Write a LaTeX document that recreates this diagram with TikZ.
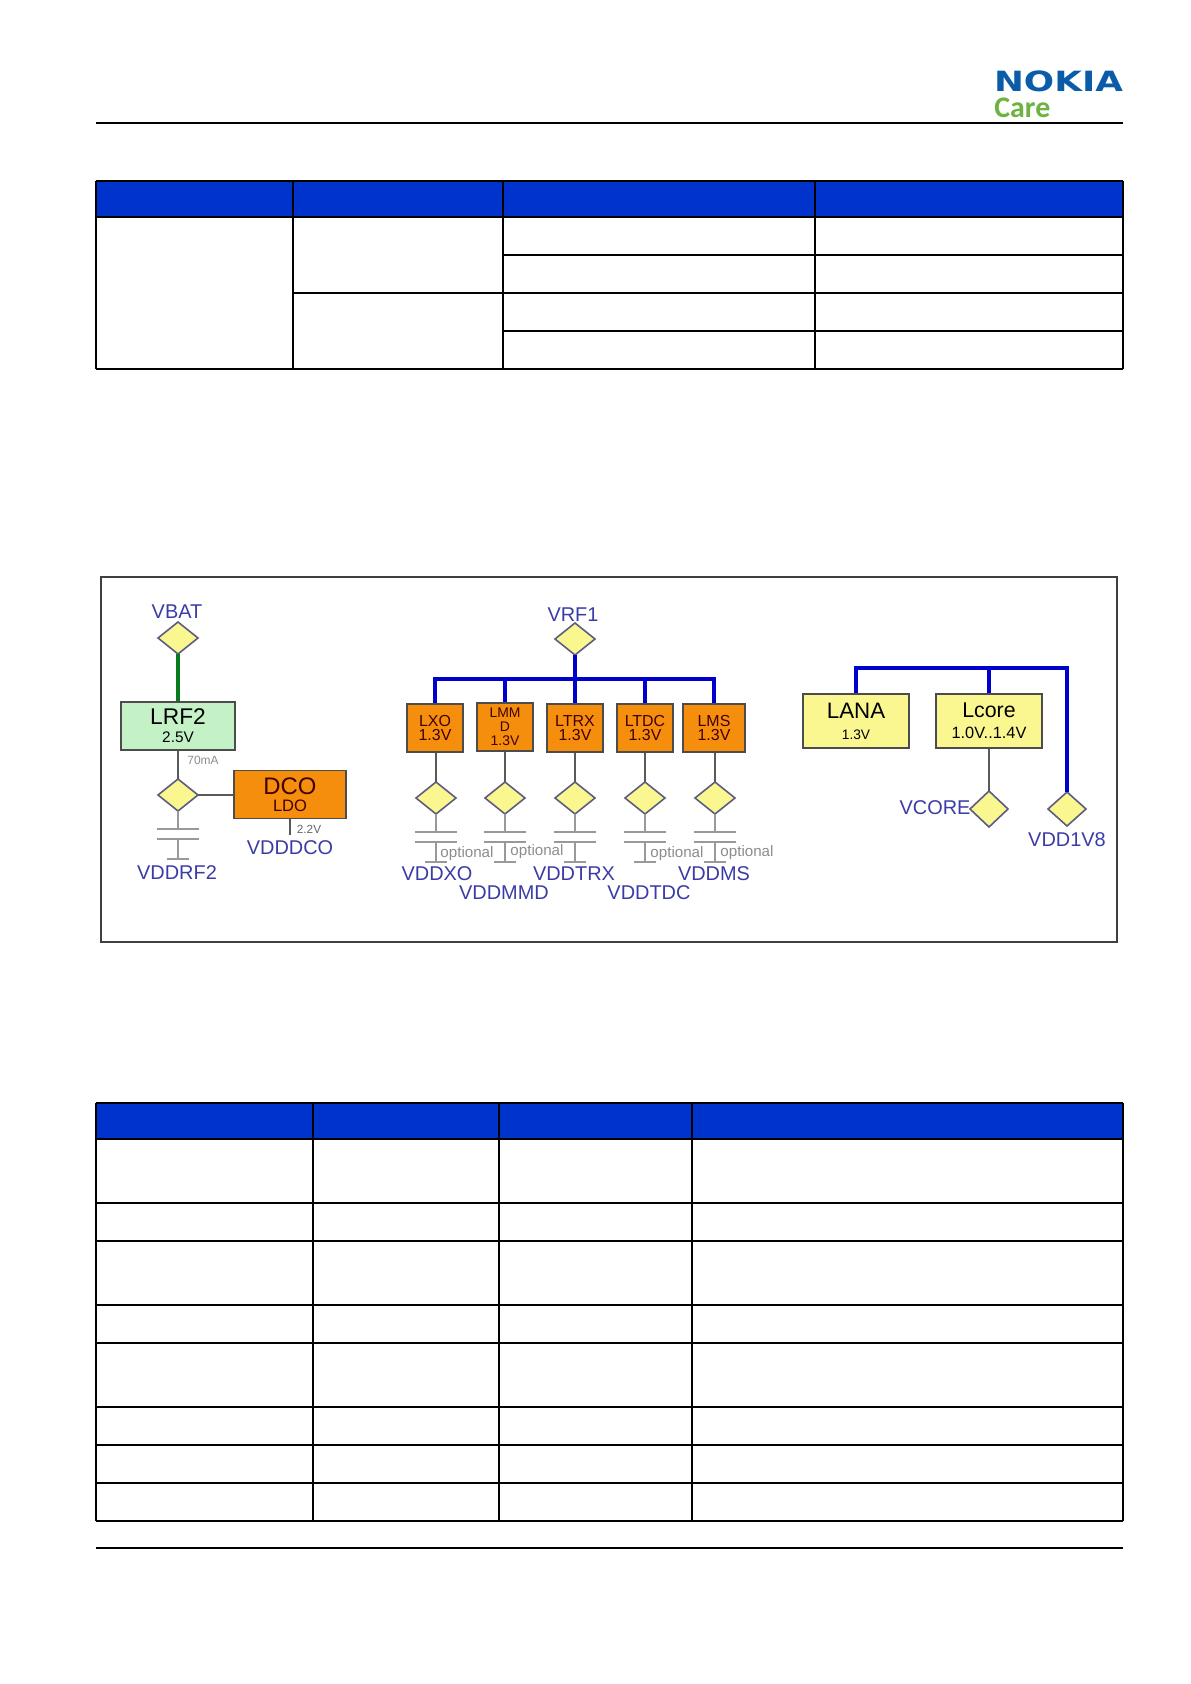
\documentclass[tikz,border=0pt]{standalone}
\usepackage{fontspec}
\setmainfont{Liberation Sans}
\newfontfamily\carefont{Carlito}
\newfontfamily\logofont{DejaVu Sans}
\usetikzlibrary{shapes.geometric}

\definecolor{headblue}{HTML}{0033CC}
\definecolor{railblue}{HTML}{0000CC}
\definecolor{railgreen}{HTML}{0A7A1E}
\definecolor{netblue}{HTML}{3B3BA6}
\definecolor{ldoorange}{HTML}{F58E0C}
\definecolor{ldogreen}{HTML}{C4F2C6}
\definecolor{ldoyellow}{HTML}{FBF790}
\definecolor{nodeedge}{HTML}{5C5C80}
\definecolor{logoblue}{HTML}{0A5CA8}
\definecolor{logogreen}{HTML}{6DB33F}

\newcommand{\fsz}[1]{\fontsize{#1}{#1}\selectfont}

\tikzset{
    tablerule/.style={line width=1bp, black},
    thinrule/.style={line width=0.75bp, black},
    railb/.style={line width=2bp, railblue},
    railg/.style={line width=1.6bp, railgreen},
    wire/.style={line width=0.7bp, black!65},
    capline/.style={line width=0.6bp, black!40},
    pin/.style={diamond, draw=nodeedge, line width=0.8bp, fill=ldoyellow,
        inner sep=0pt, outer sep=0pt, minimum width=20bp, minimum height=16bp},
    ldo/.style={draw=black!70, line width=0.8bp, inner sep=0pt, align=center},
    orangeldo/.style={ldo, fill=ldoorange, minimum width=28bp, minimum height=24bp,
        text=black!75!red, font=\fsz{8}},
    yellowldo/.style={ldo, fill=ldoyellow, minimum width=53bp, minimum height=27bp},
    netname/.style={text=netblue, font=\fsz{10}, inner sep=0pt},
    note/.style={text=black!45, inner sep=0pt, font=\fsz{7.6}}
}

\begin{document}
\begin{tikzpicture}[x=0.5bp, y=-0.5bp]
    \useasboundingbox (0,0) rectangle (1191,1684);

    % page head and foot
    \node[inner sep=0pt, text=logoblue] (nokia) at (1058.5,81)
        {\scalebox{1.28}[1]{\logofont\fsz{14}\bfseries NOKIA}};
    \node[inner sep=0pt, text=logogreen, anchor=west] (care) at (994,108)
        {\carefont\fsz{15}\bfseries Care};
    \draw[tablerule] (96,123) -- (1123,123);
    \draw[tablerule] (96,1548) -- (1123,1548);

    % upper table
    \fill[headblue] (96,181) rectangle (1123,217);
    \foreach \y in {181,217,369} {
        \draw[tablerule] (96,\y) -- (1123,\y);
    }
    \foreach \y in {255,293,331} {
        \draw[tablerule] (503,\y) -- (1123,\y);
    }
    \draw[tablerule] (293,293) -- (503,293);
    \foreach \x in {96,293,503,815,1123} {
        \draw[thinrule] (\x,181) -- (\x,369);
    }

    % lower table
    \fill[headblue] (96,1103) rectangle (1123,1139);
    \foreach \y in {1103,1139,1203,1241,1305,1343,1407,1445,1483,1521} {
        \draw[tablerule] (96,\y) -- (1123,\y);
    }
    \foreach \x in {96,313,499,692,1123} {
        \draw[thinrule] (\x,1103) -- (\x,1521);
    }

    % frame of the supply picture
    \draw[line width=0.9bp, black!75] (101,577) rectangle (1117,942);

    % left group
    \node[netname] (vbatname) at (177,612) {VBAT};
    \node[pin] (vbat) at (178,638) {};
    \node[ldo, fill=ldogreen, minimum width=57bp, minimum height=24bp] (lrf) at (178,726)
        {\fsz{11.4}LRF2\\[-3bp]\fsz{7.7}2.5V};
    \node[pin] (drf) at (178,795) {};
    \node[note, font=\fsz{6}] (ratlabel) at (203,760) {70mA};
    \node[orangeldo, minimum width=56bp, font=\fsz{12}] (dco) at (290,794.5)
        {DCO\\[-3.5bp]\fsz{8.3}LDO};
    \coordinate (dcoout) at (290,835);
    \node[note, text=black!60, font=\fsz{5.9}] (dcov) at (309,829) {2.2V};
    \node[netname] (dconame) at (290,848) {VDDDCO};
    \node[netname] (rfname) at (177,873) {VDDRF2};
    \draw[railg] (vbat.south) -- (lrf.north -| vbat.south);
    \draw[wire] (lrf.south -| drf.north) -- (drf.north);
    \draw[wire] (drf.east) -- (dco.west |- drf.east);
    \draw[wire] (dco.south) -- (dcoout);

    % middle group
    \node[netname] (vrfname) at (573,615) {VRF1};
    \node[pin] (vrf) at (575,639) {};
    \coordinate (rfbus) at (575,679);
    \node[orangeldo] (xo) at (435,728) {LXO\\[-1bp]1.3V};
    \node[orangeldo, font=\fsz{7}] (mmd) at (505,727) {LMM\\D\\1.3V};
    \node[orangeldo] (trx) at (575,728) {LTRX\\[-1bp]1.3V};
    \node[orangeldo] (tdc) at (645,728) {LTDC\\[-1bp]1.3V};
    \node[orangeldo, minimum width=31bp] (ms) at (714,728) {LMS\\[-1bp]1.3V};
    \draw[railb] (vrf.south) -- (rfbus);
    \foreach \n in {xo,mmd,trx,tdc,ms} {
        \draw[railb] (rfbus) -| (\n.north);
    }
    \foreach \n/\x in {xo/436,mmd/505,trx/575,tdc/645,ms/715} {
        \node[pin] (d\n) at (\x,798) {};
        \draw[wire] (\n.south -| d\n.north) -- (d\n.north);
    }
    \foreach \n/\x/\y in {xo/467/854,mmd/537/852,tdc/677/854,ms/747/853} {
        \node[note] (opt\n) at (\x,\y) {optional};
    }
    \node[netname] (xoname) at (437,874) {VDDXO};
    \node[netname] (mmdname) at (504,893) {VDDMMD};
    \node[netname] (trxname) at (574,874) {VDDTRX};
    \node[netname] (tdcname) at (649,893) {VDDTDC};
    \node[netname] (msname) at (714,874) {VDDMS};

    % the decoupling capacitors below the pins
    \foreach \n in {rf,xo,mmd,trx,tdc,ms} {
        \draw[capline] (d\n.south) -- ++(0,18) coordinate (p\n);
        \draw[capline] (p\n) ++(-21,0) -- ++(42,0);
        \draw[capline] (p\n) ++(-21,10) -- ++(42,0);
        \draw[capline] (p\n) ++(0,10) -- ++(0,20) coordinate (g\n);
        \draw[capline] (g\n) ++(-11,0) -- ++(22,0);
    }

    % right group
    \coordinate (corebus) at (989,668);
    \node[yellowldo] (lana) at (856,721) {\fsz{11.2}LANA\\[-1.5bp]\fsz{6.9}1.3V};
    \node[yellowldo] (lcore) at (989,721) {\fsz{10.7}Lcore\\[-1.5bp]\fsz{8.2}1.0V..1.4V};
    \node[pin, minimum width=19bp, minimum height=18bp] (vcore) at (989,809) {};
    \node[pin, minimum width=19bp, minimum height=17bp] (vdd) at (1067,809) {};
    \node[netname] (corename) at (935,808) {VCORE};
    \node[netname] (vddname) at (1067,840) {VDD1V8};
    \draw[railb] (corebus) -| (lana.north);
    \draw[railb] (corebus) -- (lcore.north);
    \draw[railb] (corebus) -| (vdd.north);
    \draw[wire] (lcore.south) -- (vcore.north);
\end{tikzpicture}
\end{document}
